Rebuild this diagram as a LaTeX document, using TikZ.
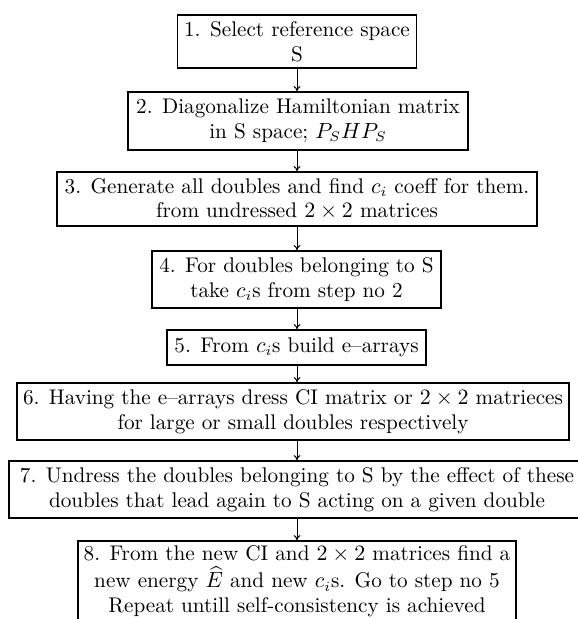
\documentclass[tikz,border=0pt]{standalone}
\usepackage{amsmath}
\usepackage{tikz}
\usetikzlibrary{arrows.meta}
\tikzset{
  stepbox/.style  = {draw=black, line width=0.7pt, fill=white, align=center, inner xsep=2pt, inner ysep=2pt,
                     font=\fontsize{10.6}{12.4}\selectfont},
  flowarrow/.style = {-{To[length=2.6pt,width=3.4pt]}, draw=black, line width=0.5pt},
}

\begin{document}
\begin{tikzpicture}[x=0.5pt,y=-0.5pt]
  \useasboundingbox (0,0) rectangle (577,619);

  \node[stepbox, minimum width=119.5pt, minimum height=26.5pt] (b1) at (297,41.5)
    {1. Select reference space\\ S};
  \node[stepbox, minimum width=170pt, minimum height=29pt] (b2) at (298,121)
    {2. Diagonalize Hamiltonian matrix\\ in S space; $P_SHP_S$};
  \node[stepbox, minimum width=240pt, minimum height=27pt] (b3) at (297,199)
    {3. Generate all doubles and find $c_i$ coeff for them.\\ from undressed $2\times 2$ matrices};
  \node[stepbox, minimum width=144.5pt, minimum height=28.5pt] (b4) at (296.5,279.5)
    {4. For doubles belonging to S\\ take $c_i$s from step no 2};
  \node[stepbox, minimum width=129.5pt, minimum height=17.5pt] (b5) at (296.5,347.5)
    {5. From $c_i$s build e--arrays};
  \node[stepbox, minimum width=276pt, minimum height=28.5pt] (b6) at (293,411.5)
    {6. Having the e--arrays dress CI matrix or $2\times 2$ matrieces\\ for large or small doubles respectively};
  \node[stepbox, minimum width=288pt, minimum height=28.5pt] (b7) at (297,489.5)
    {7. Undress the doubles belonging to S by the effect of these\\ doubles that lead again to S acting on a given double};
  \node[stepbox, minimum width=219pt, minimum height=40pt] (b8) at (297,581)
    {8. From the new CI and $2\times 2$ matrices find a\\[1.5pt] new energy $\widehat{E}$ and new $c_i$s. Go to step no 5\\ Repeat untill self-consistency is achieved};

  % step to step
  \foreach \a/\b in {b1/b2, b2/b3, b3/b4, b4/b5, b5/b6, b6/b7, b7/b8} {
    \draw[flowarrow] (\a.south -| b1) -- (\b.north -| b1);
  }
\end{tikzpicture}
\end{document}
